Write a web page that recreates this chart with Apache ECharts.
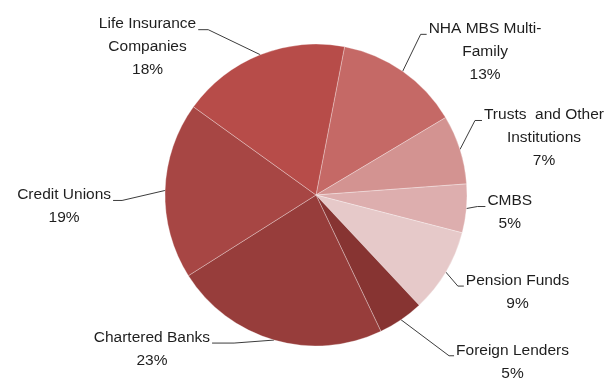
<!DOCTYPE html>
<html>
<head>
<meta charset="utf-8">
<script src="https://cdn.jsdelivr.net/npm/echarts@6/dist/echarts.min.js"></script>
<style>
html,body{margin:0;padding:0;background:#fff;}
#chart{width:611px;height:378px;}
</style>
</head>
<body>
<div id="chart"></div>
<script>
// Data, clockwise from the top
var categories = ['NHA MBS Multi-\nFamily', 'Trusts  and Other\nInstitutions', 'CMBS', 'Pension Funds', 'Foreign Lenders', 'Chartered Banks', 'Credit Unions', 'Life Insurance\nCompanies'];
var shares = [13.4, 7.4, 5.2, 9.0, 4.9, 23.1, 18.9, 18.1];
var sliceColors = ['#C56966', '#D39391', '#DDAEAE', '#E6C9C9', '#873432', '#973D3B', '#A74644', '#B74C49'];

// Leader-line styling per label: elbow offset from the slice edge, then horizontal run (sign = side)
var leaderElbowDx = [18, 15, 11, 12, 48, -40, -43, -52];
var leaderElbowDy = [-37, -29, -2, 14, 36, 3, 10, -25];
var leaderRun = [6, 7, 8, 6, 5, -22, -9, -10];

var chart = echarts.init(document.getElementById('chart'), null, {renderer: 'canvas'});
var FONT = '"Liberation Sans", Arial, sans-serif';
var LH = 23;

var data = categories.map(function (c, i) {
  return { name: c, value: shares[i], itemStyle: { color: sliceColors[i] } };
});

chart.setOption({
  animation: false,
  backgroundColor: '#fff',
  series: [{
    type: 'pie',
    center: [316, 195],
    radius: [0, 151],
    startAngle: 79.1,
    clockwise: true,
    avoidLabelOverlap: false,
    data: data,
    itemStyle: { borderColor: 'rgba(255,255,255,0.5)', borderWidth: 0.6 },
    label: {
      show: true,
      position: 'outside',
      fontFamily: FONT,
      fontSize: 15.5,
      lineHeight: LH,
      color: '#1e1e1e',
      formatter: function (p) { return p.name + '\n' + Math.round(p.percent) + '%'; }
    },
    labelLine: {
      show: true,
      length: 20,
      length2: 8,
      lineStyle: { color: '#3c3c3c', width: 1 }
    },
    labelLayout: function (p) {
      var i = p.dataIndex;
      var r = p.labelRect;
      var edge = p.labelLinePoints[0];
      var elbow = [edge[0] + leaderElbowDx[i], edge[1] + leaderElbowDy[i]];
      var end = [elbow[0] + leaderRun[i], elbow[1]];
      var side = leaderRun[i] > 0 ? 1 : -1;
      return {
        x: end[0] + side * (2 + r.width / 2),
        y: end[1] - 17,
        align: 'center',
        verticalAlign: 'top',
        labelLinePoints: [edge, elbow, end]
      };
    }
  }]
});
</script>
</body>
</html>
